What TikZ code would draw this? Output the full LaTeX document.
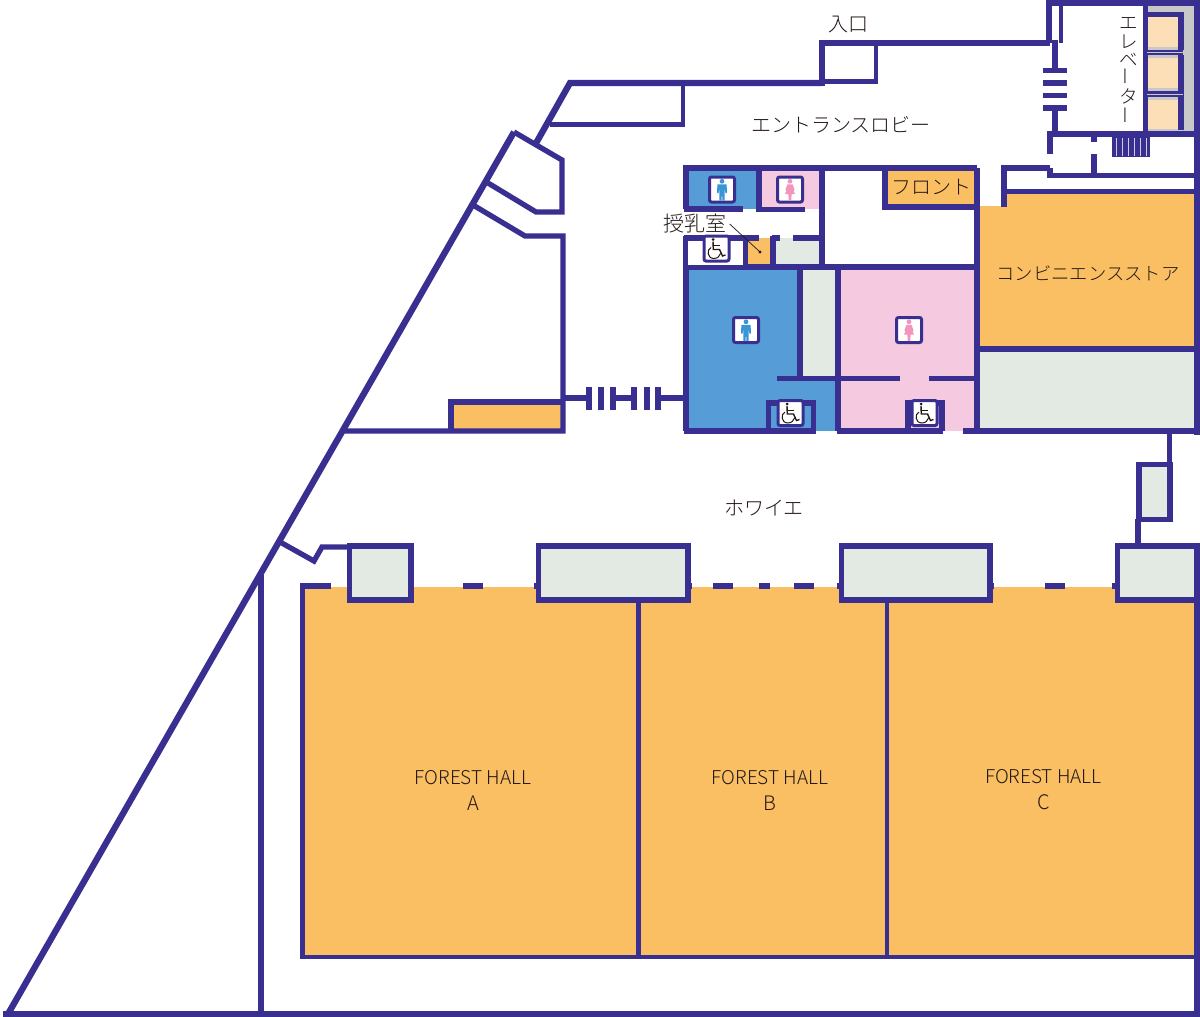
\documentclass[tikz,border=0pt]{standalone}
\usepackage{fontspec}
\usepackage{graphicx}
\setmainfont{Noto Sans CJK JP Light}
\definecolor{wallc}{HTML}{382F91}
\definecolor{hallc}{HTML}{FABF63}
\definecolor{menc}{HTML}{569CD7}
\definecolor{womenc}{HTML}{F5C9E0}
\definecolor{svcc}{HTML}{E3E9E3}
\definecolor{liftc}{HTML}{FDDFB7}
\definecolor{shaftc}{HTML}{C8C8C8}
\definecolor{menicon}{HTML}{3A95D5}
\definecolor{womenicon}{HTML}{F294BE}
\definecolor{inkc}{HTML}{231815}
\tikzset{
  wall/.style={draw=wallc,line width=5.3pt,miter limit=10},
  thick wall/.style={draw=wallc,line width=6.3pt},
  thin wall/.style={draw=wallc,line width=4.3pt},
  label text/.style={text=inkc,inner sep=0pt,font=\fontsize{20}{22}\selectfont},
  hall text/.style={text=inkc,inner sep=0pt,font=\fontsize{19}{22}\selectfont},
  iconbox/.style={draw=wallc,line width=3pt,fill=white,rounded corners=2pt},
  mansign/.pic={
    \path[iconbox] (-12.5,-12.5) rectangle (12.5,12.5);
    \fill[menicon] (0,-8.2) circle (2.4pt);
    \fill[menicon] (-4.6,-5.2) -- (4.6,-5.2) -- (5,3.6) -- (3.4,3.6) -- (2.7,-1.5) -- (2.6,11) -- (0.5,11) -- (0,3) -- (-0.5,11) -- (-2.6,11) -- (-2.7,-1.5) -- (-3.4,3.6) -- (-5,3.6) -- cycle;
  },
  womansign/.pic={
    \path[iconbox] (-12.5,-12.5) rectangle (12.5,12.5);
    \fill[womenicon] (0,-8.2) circle (2.4pt);
    \fill[womenicon] (-2.6,-5.2) -- (2.6,-5.2) -- (4.6,0.6) -- (3.5,1.2) -- (5,4.6) -- (1.6,4.6) -- (1.3,11) -- (0.2,11) -- (0,5) -- (-0.2,11) -- (-1.3,11) -- (-1.6,4.6) -- (-5,4.6) -- (-3.5,1.2) -- (-4.6,0.6) -- cycle;
  },
  wheelsign/.pic={
    \path[iconbox] (-12.5,-12.5) rectangle (12.5,12.5);
    \fill[inkc] (-3.5,-9) circle (1.5pt);
    \draw[inkc,line width=1.4pt] (-3.5,-7) -- (-3.2,1) -- (3,1) -- (6,7.5) -- (9,6.5);
    \draw[inkc,line width=1pt] (-3.2,-3) -- (3,-3);
    \draw[inkc,line width=1pt] (-5.5,-1) .. controls (-10,1) and (-9.5,10) .. (-2.5,10) .. controls (1,10) and (3.5,7.5) .. (4,5);
  }
}
\begin{document}
\begin{tikzpicture}[x=1pt,y=-1pt,line cap=butt,line join=miter]
\useasboundingbox (0,0) rectangle (1200,1017);
\fill[white] (0,0) rectangle (1200,1017);
% ---- fills
\fill[hallc] (303,587) rectangle (1197,957);
\fill[hallc] (980,206) rectangle (1197,349);
\fill[hallc] (1006,194) rectangle (1197,207);
\fill[svcc] (977,349) rectangle (1197,431);
\fill[hallc] (451,402) rectangle (563,431);
\fill[menc] (686,267) rectangle (838,431);
\fill[womenc] (838,267) rectangle (977,431);
\fill[svcc] (800,267) rectangle (838,378);
\fill[menc] (686,168) rectangle (759,209);
\fill[womenc] (759,168) rectangle (822,209);
\fill[hallc] (885,168) rectangle (977,207);
\fill[hallc] (744,238) rectangle (773,267);
\fill[svcc] (773,238) rectangle (822,267);
\fill[shaftc] (1145,3) rectangle (1197,133);
\fill[liftc] (1148,17) rectangle (1179,47);
\fill[liftc] (1148,58) rectangle (1179,88);
\fill[liftc] (1148,100) rectangle (1179,129);
% ---- outer shell
\path[thick wall] (8,1014) -- (514,132);
\path[thick wall] (3,1014) -- (1200,1014);
\path[wall] (261,575) -- (261,1014);
\path[wall] (514,132) -- (562,160) -- (562,212) -- (536,212) -- (488,183);
\path[wall] (473,205) -- (525,236) -- (563,236) -- (563,431) -- (343,431);
\path[wall] (451,431) -- (451,402) -- (563,402);
\path[thick wall] (535,145) -- (570,83) -- (822,83);
\path[thin wall] (550,124.5) -- (683,124.5) -- (683,83);
% ---- entrance
\path[thick wall] (822,86) -- (822,43) -- (1050,43);
\path[thin wall] (822,81.5) -- (876,81.5) -- (876,43);
% ---- lift lobby
\path[thick wall] (1049,43) -- (1049,3) -- (1200,3);
\path[thin wall] (1061,3) -- (1061,43);
\path[wall] (1055,40) -- (1055,70);
\path[wall] (1043,70.5) -- (1067,70.5);
\path[wall] (1043,83) -- (1067,83);
\path[wall] (1043,95.5) -- (1067,95.5);
\path[wall] (1043,108) -- (1067,108);
\path[wall] (1055,108) -- (1055,134);
\path[wall] (1145.5,3) -- (1145.5,134);
\path[wall] (1145,14.5) -- (1181,14.5) -- (1181,50);
\path[wall] (1145,52.5) -- (1183,52.5);
\path[wall] (1181,55) -- (1181,91);
\path[wall] (1145,94) -- (1183,94);
\path[wall] (1181,91) -- (1181,130);
\draw[shaftc,line width=0.8pt] (1147,52.5) -- (1183,52.5);
\draw[shaftc,line width=0.8pt] (1147,94) -- (1183,94);
\path[thick wall] (1197,0) -- (1197,435);
\path[wall] (1047,134) -- (1197,134);
\path[wall] (1050,134) -- (1050,154);
\path[wall] (1094,134) -- (1094,142);
\path[wall] (1094,154) -- (1094,175);
\path[wall] (1050,168) -- (1050,175.5) -- (1197,175.5);
\path[wall] (1004,207) -- (1004,168) -- (1050,168);
\path[wall] (1004,191.5) -- (1197,191.5);
\fill[wallc] (1112,136) rectangle (1150,157);
\foreach \sx in {1116.5,1122.5,1128.5,1134.5,1140.5,1146.5}
  \draw[white!75!wallc,line width=1.1pt] (\sx,138) -- (\sx,156);
% ---- restrooms, upper block
\path[wall] (977,168) -- (686,168) -- (686,209);
\path[wall] (684,209) -- (743,209);
\path[wall] (759,168) -- (759,212);
\path[wall] (757,209.5) -- (805,209.5);
\path[wall] (822,168) -- (822,267);
\path[wall] (977,168) -- (977,432);
\path[wall] (885,168) -- (885,207) -- (977,207);
\path[wall] (684,238) -- (759,238);
\path[wall] (772,238) -- (780,238);
\path[wall] (793,238) -- (824,238);
\path[wall] (686,236) -- (686,267);
\path[wall] (745,238) -- (745,267);
\path[wall] (773,236) -- (773,267);
% ---- restrooms, lower block
\path[wall] (684,267) -- (979,267);
\path[wall] (686,265) -- (686,431);
\path[wall] (684,431) -- (816,431);
\path[wall] (837,431) -- (943,431);
\path[wall] (963,431) -- (1197,431);
\path[wall] (800,267) -- (800,378);
\path[wall] (838,267) -- (838,431);
\path[wall] (777,378.5) -- (900,378.5);
\path[wall] (929,378.5) -- (977,378.5);
\path[wall] (768.5,431) -- (768.5,403) -- (813.5,403) -- (813.5,431);
\path[wall] (908,431) -- (908,403) -- (942,403) -- (942,431);
\path[wall] (977,349) -- (1197,349);
% ---- steps to the foyer
\path[wall] (563,398) -- (589,398);
\path[wall] (613,398) -- (634,398);
\path[wall] (658,398) -- (686,398);
\foreach \sx in {589,601,613,634,647,658}
  \path[wall] (\sx,387) -- (\sx,410);
% ---- foyer
\path[wall] (1169.5,431) -- (1169.5,465);
\path[wall,fill=svcc] (1139,464.5) rectangle (1170,519.5);
\path[wall] (1138,519) -- (1138,545);
\path[wall] (280,542) -- (314,561) -- (322,547) -- (349,547);
% ---- hall wall
\path[wall] (331,586) -- (300,586);
\path[wall] (302.5,584) -- (302.5,957);
\foreach \xa/\xb in {463/483,534/538,688/692,713/733,759/770,794/814,837/841,990/994,1045/1065,1112/1117}
  \path[wall] (\xa,586) -- (\xb,586);
\path[thin wall] (300,957) -- (1197,957);
\path[thin wall] (638.5,600) -- (638.5,957);
\path[thin wall] (887,600) -- (887,957);
\path[thick wall] (1197,545) -- (1197,1014);
\path[wall,fill=svcc] (349.5,546) rectangle (411,600);
\path[wall,fill=svcc] (538.5,546) rectangle (688,600);
\path[wall,fill=svcc] (841.5,546) rectangle (990,600);
\path[wall,fill=svcc] (1117.5,546) rectangle (1197,600);
% ---- signs
\fill[white] (688,240.5) rectangle (743,264.5);
\pic at (722,189.5) {mansign};
\pic at (790,189.5) {womansign};
\pic at (746,330) {mansign};
\pic at (909,330) {womansign};
\pic at (716.5,248.5) {wheelsign};
\pic at (790.5,413) {wheelsign};
\pic at (924.5,413) {wheelsign};
% ---- labels
\node[label text] (entrance) at (848,24.5) {入口};
\node[label text] (lobby) at (841,125) {エントランスロビー};
\node[label text] (front) at (931,187) {フロント};
\node[label text,font=\fontsize{18.3}{22}\selectfont] (store) at (1088,273.5) {コンビニエンスストア};
\node[label text] (foyer) at (764,508) {ホワイエ};
\node[label text,font=\fontsize{21}{24}\selectfont] (nursing) at (695,224) {授乳室};
\node[label text,align=center,font=\fontsize{18.5}{18.5}\selectfont] (lift) at (1129,71) {エ\\レ\\ベ\\\rotatebox{90}{ー}\\タ\\\rotatebox{90}{ー}};
\node[hall text,align=center] (hallA) at (473,790) {FOREST HALL\\[4pt]{\fontsize{20}{22}\selectfont A}};
\node[hall text,align=center] (hallB) at (770,790) {FOREST HALL\\[4pt]{\fontsize{20}{22}\selectfont B}};
\node[hall text,align=center] (hallC) at (1043.5,790) {FOREST HALL\\[4pt]{\fontsize{20}{22}\selectfont C}};
\coordinate (nursingspot) at (760,252);
\draw[inkc,line width=0.7pt] (nursing.east) ++(3,0) -- (nursingspot);
\fill[inkc] (nursingspot) circle (1.6pt);
\end{tikzpicture}
\end{document}
